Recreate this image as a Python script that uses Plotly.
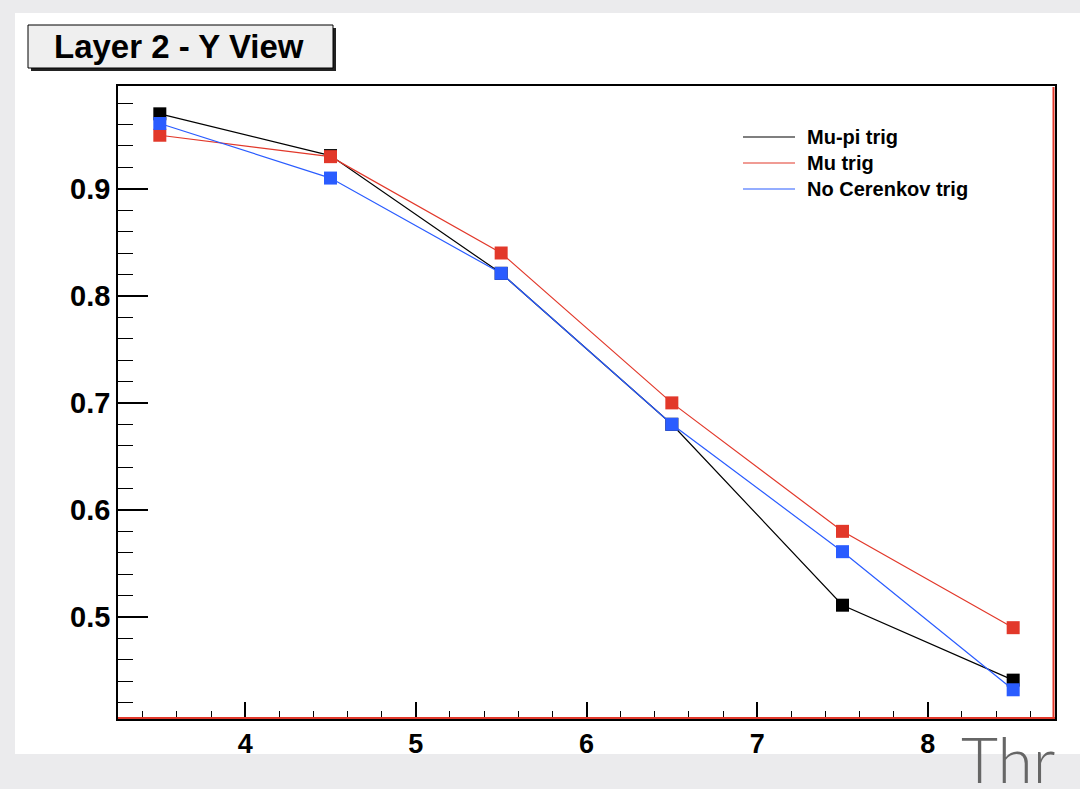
import plotly.graph_objects as go

# ---- data ----
thresholds = [3.5, 4.5, 5.5, 6.5, 7.5, 8.5]
mu_pi_trig = [0.970, 0.931, 0.821, 0.680, 0.511, 0.441]
mu_trig = [0.950, 0.930, 0.840, 0.700, 0.580, 0.490]
no_cerenkov_trig = [0.961, 0.910, 0.821, 0.680, 0.561, 0.432]
series_names = ["Mu-pi trig", "Mu trig", "No Cerenkov trig"]
series_colors = ["#000000", "#e2382a", "#2a5cff"]
y_tickvals = [0.5, 0.6, 0.7, 0.8, 0.9]
x_tickvals = [4, 5, 6, 7, 8]
title_text = "Layer 2 - Y View"
corner_text = "Thr"

W, H = 1080, 789
L, R, T, B = 118, 1055, 86, 719


def px(x):
    return (x - L) / (R - L)


def py(y):
    return (B - y) / (B - T)


fig = go.Figure()
series = [mu_pi_trig, mu_trig, no_cerenkov_trig]
for name, vals, col in zip(series_names, series, series_colors):
    fig.add_trace(go.Scatter(
        x=thresholds, y=vals, mode="lines+markers", name=name,
        line=dict(color=col, width=1.2),
        marker=dict(symbol="square", size=13, color=col),
        showlegend=False,
    ))

shapes = []
# white panel
shapes.append(dict(type="rect", xref="paper", yref="paper", layer="below",
                   x0=px(15), x1=px(1085), y0=py(754), y1=py(13),
                   fillcolor="white", line=dict(width=0)))
# title box shadow and box
shapes.append(dict(type="rect", xref="paper", yref="paper",
                   x0=px(31), x1=px(336), y0=py(71), y1=py(28),
                   fillcolor="#222222", line=dict(width=0)))
shapes.append(dict(type="rect", xref="paper", yref="paper",
                   x0=px(28), x1=px(333), y0=py(68), y1=py(25),
                   fillcolor="#efefef", line=dict(color="black", width=1)))
# red frame edges (right, bottom)
shapes.append(dict(type="line", xref="paper", yref="paper",
                   x0=px(1053.5), x1=px(1053.5), y0=py(B), y1=py(T + 1),
                   line=dict(color="#e2382a", width=2)))
shapes.append(dict(type="line", xref="paper", yref="paper",
                   x0=px(L), x1=px(R), y0=py(B - 1), y1=py(B - 1),
                   line=dict(color="#e2382a", width=2)))

annotations = [
    dict(text=title_text, xref="paper", yref="paper", x=px(179), y=py(46),
         xanchor="center", yanchor="middle", showarrow=False,
         font=dict(family="Liberation Sans", size=33, color="black", weight="bold")),
    dict(text=corner_text, xref="paper", yref="paper", x=px(1008), y=py(758),
         xanchor="center", yanchor="middle", showarrow=False,
         font=dict(family="Lato", size=64, color="#666666", weight=300)),
]

# manual legend
leg_y = [137, 163, 189]
for name, col, yy in zip(series_names, series_colors, leg_y):
    shapes.append(dict(type="line", xref="paper", yref="paper",
                       x0=px(743), x1=px(795), y0=py(yy), y1=py(yy),
                       line=dict(color=col, width=1.2)))
    annotations.append(dict(text=name, xref="paper", yref="paper",
                            x=px(805), y=py(yy), xanchor="left", yanchor="middle",
                            showarrow=False,
                            font=dict(family="Liberation Sans", size=20,
                                      color="black", weight="bold")))

fig.update_layout(
    width=W, height=H,
    margin=dict(l=L, r=W - R, t=T, b=H - B, pad=0),
    paper_bgcolor="#ebebed",
    plot_bgcolor="white",
    shapes=shapes,
    annotations=annotations,
    showlegend=False,
)
fig.update_xaxes(
    range=[3.255, 8.745], tickvals=x_tickvals,
    ticks="inside", ticklen=17, tickwidth=1.5, tickcolor="black",
    minor=dict(dtick=0.2, tick0=4, ticks="inside", ticklen=8, tickwidth=1.2, tickcolor="black"),
    showline=True, linecolor="black", linewidth=1.5, mirror=True,
    showgrid=False, zeroline=False, ticklabelstandoff=0,
    tickfont=dict(family="Liberation Sans", size=27, color="black", weight="bold"),
)
fig.update_yaxes(
    range=[0.4047, 0.996], tickvals=y_tickvals, ticktext=[f"{v:.1f}" for v in y_tickvals],
    ticks="inside", ticklen=30, tickwidth=1.5, tickcolor="black",
    minor=dict(dtick=0.02, tick0=0.5, ticks="inside", ticklen=15, tickwidth=1.2, tickcolor="black"),
    showline=True, linecolor="black", linewidth=1.5, mirror=True,
    showgrid=False, zeroline=False, ticklabelstandoff=0,
    tickfont=dict(family="Liberation Sans", size=29, color="black", weight="bold"),
)

fig.write_html(
    "out.html",
    config={"displayModeBar": False},
    post_script="document.body.style.margin='0';document.body.style.background='#ebebed';document.body.style.overflow='hidden';",
)
